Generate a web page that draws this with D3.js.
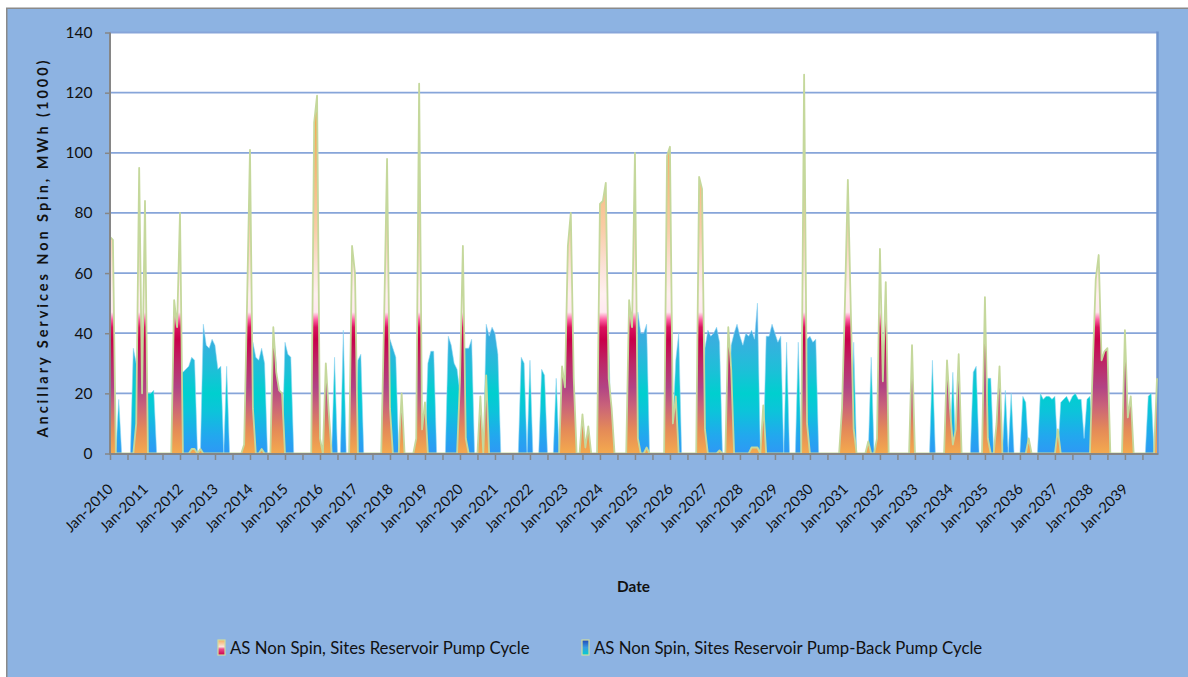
<!DOCTYPE html>
<html>
<head>
<meta charset="utf-8">
<script src="https://cdn.jsdelivr.net/npm/d3@7/dist/d3.min.js"></script>
<style>
  html, body { margin: 0; padding: 0; background: #ffffff; }
  svg { display: block; font-family: Lato, "Open Sans", "Liberation Sans", sans-serif; }
</style>
</head>
<body>
<svg id="chart" width="1188" height="677"></svg>
<script>
// Monthly values, MWh (1000), Jan-2010 .. Dec-2039, one row per year
const pumpCycleByYear = [
  [72, 71, 0, 0, 0, 0, 0, 0, 0, 10, 95, 20],      // 2010
  [84, 0, 0, 0, 0, 0, 0, 0, 0, 0, 51, 42],        // 2011
  [80, 0, 0, 0, 1.5, 1.5, 0, 1.5, 0, 0, 0, 0],    // 2012
  [0, 0, 0, 0, 0, 0, 0, 0, 0, 0, 3, 50],          // 2013
  [101, 15, 0, 0, 1.5, 0, 0, 0, 42, 27, 21, 20],  // 2014
  [0, 0, 0, 0, 0, 0, 0, 0, 0, 0, 110, 119],       // 2015
  [5, 0, 30, 14, 0, 0, 0, 0, 0, 0, 0, 69],        // 2016
  [60, 0, 0, 0, 0, 0, 0, 0, 0, 0, 45, 98],        // 2017
  [15, 0, 0, 0, 20, 0, 0, 0, 0, 5, 123, 8],       // 2018
  [17, 0, 0, 0, 0, 0, 0, 0, 0, 0, 0, 0],          // 2019
  [24, 69, 5, 0, 0, 0, 0, 19, 0, 26, 0, 0],       // 2020
  [0, 0, 0, 0, 0, 0, 0, 0, 0, 0, 0, 0],           // 2021
  [0, 0, 0, 0, 0, 0, 0, 0, 0, 0, 0, 29],          // 2022
  [22, 69, 80, 25, 0, 0, 13, 2, 9, 0, 0, 0],      // 2023
  [83, 84, 90, 25, 15, 0, 0, 0, 0, 0, 51, 42],    // 2024
  [100, 5, 0, 0, 2, 0, 0, 0, 0, 0, 0, 99],        // 2025
  [102, 10, 19, 0, 0, 0, 0, 0, 0, 0, 92, 88],     // 2026
  [8, 0, 0, 0, 0, 1, 0, 0, 42, 28, 0, 0],         // 2027
  [0, 0, 0, 0, 2, 2, 2, 0, 16, 0, 0, 0],          // 2028
  [0, 0, 0, 0, 0, 0, 0, 0, 0, 0, 126, 10],        // 2029
  [0, 0, 0, 0, 0, 0, 0, 0, 0, 0, 0, 15],          // 2030
  [50, 91, 48, 8, 0, 0, 0, 0, 4, 0, 0, 5],        // 2031
  [68, 24, 57, 0, 0, 0, 0, 0, 0, 0, 0, 36],       // 2032
  [0, 0, 0, 0, 0, 0, 0, 0, 0, 0, 0, 31],          // 2033
  [15, 3, 8, 33, 0, 0, 0, 0, 0, 0, 0, 0],         // 2034
  [52, 5, 0, 0, 10, 29, 0, 0, 0, 0, 0, 0],        // 2035
  [0, 0, 0, 5, 0, 0, 0, 0, 0, 0, 0, 0],           // 2036
  [0, 8, 0, 0, 0, 0, 0, 0, 0, 0, 0, 0],           // 2037
  [0, 30, 58, 66, 31, 34, 35, 0, 0, 0, 0, 0],     // 2038
  [41, 12, 19, 0, 0, 0, 0, 0, 0, 0, 0, 25]        // 2039
];

const pumpBackByYear = [
  [0, 0, 0, 18, 0, 0, 0, 0, 35, 30, 40, 20],      // 2010
  [20, 20, 20, 21, 0, 0, 0, 0, 0, 0, 0, 0],       // 2011
  [27, 27, 28, 29, 32, 31, 0, 0, 43, 36, 35, 38], // 2012
  [36, 28, 29, 0, 29, 0, 0, 0, 0, 0, 0, 0],       // 2013
  [30, 37, 32, 31, 35, 30, 0, 0, 40, 30, 0, 0],   // 2014
  [37, 33, 32, 0, 0, 0, 0, 0, 0, 0, 0, 0],        // 2015
  [0, 0, 0, 0, 0, 32, 0, 0, 41, 0, 0, 0],         // 2016
  [0, 31, 33, 0, 0, 0, 0, 0, 0, 0, 40, 40],       // 2017
  [38, 35, 32, 0, 0, 0, 0, 0, 0, 0, 0, 0],        // 2018
  [0, 30, 34, 34, 0, 0, 0, 0, 39, 36, 30, 28],    // 2019
  [20, 35, 35, 35, 38, 0, 0, 0, 0, 43, 39, 42],   // 2020
  [40, 33, 0, 0, 0, 0, 0, 0, 0, 32, 30, 0],       // 2021
  [31, 0, 0, 0, 28, 26, 0, 0, 0, 25, 0, 0],       // 2022
  [0, 0, 0, 0, 0, 0, 0, 0, 0, 0, 0, 0],           // 2023
  [0, 0, 40, 38, 0, 0, 0, 0, 0, 0, 0, 0],         // 2024
  [0, 47, 40, 40, 43, 0, 0, 0, 0, 0, 0, 0],       // 2025
  [0, 10, 31, 40, 0, 0, 0, 0, 0, 0, 0, 0],        // 2026
  [35, 41, 39, 40, 42, 37, 0, 0, 0, 36, 40, 43],  // 2027
  [39, 36, 40, 39, 41, 38, 50, 0, 0, 39, 39, 43], // 2028
  [40, 37, 39, 0, 37, 0, 0, 0, 37, 0, 0, 38],     // 2029
  [39, 37, 38, 0, 0, 0, 0, 0, 0, 0, 0, 0],        // 2030
  [0, 0, 0, 37, 0, 0, 0, 0, 0, 32, 0, 0],         // 2031
  [0, 0, 0, 0, 0, 0, 0, 0, 0, 0, 0, 0],           // 2032
  [0, 0, 0, 0, 0, 0, 31, 0, 0, 0, 0, 0],          // 2033
  [0, 27, 0, 0, 0, 0, 0, 0, 27, 29, 0, 0],        // 2034
  [0, 25, 25, 0, 0, 0, 0, 21, 0, 20, 0, 0],       // 2035
  [0, 19, 17, 0, 0, 0, 0, 20, 18, 19, 19, 18],    // 2036
  [19, 0, 17, 18, 19, 17, 19, 20, 18, 18, 5, 18], // 2037
  [19, 8, 0, 0, 0, 0, 0, 0, 0, 0, 0, 0],          // 2038
  [0, 0, 0, 0, 0, 0, 0, 0, 19, 20, 0, 0]          // 2039
];

const yearTicks = ["Jan-2010", "Jan-2011", "Jan-2012", "Jan-2013", "Jan-2014", "Jan-2015",
  "Jan-2016", "Jan-2017", "Jan-2018", "Jan-2019", "Jan-2020", "Jan-2021", "Jan-2022",
  "Jan-2023", "Jan-2024", "Jan-2025", "Jan-2026", "Jan-2027", "Jan-2028", "Jan-2029",
  "Jan-2030", "Jan-2031", "Jan-2032", "Jan-2033", "Jan-2034", "Jan-2035", "Jan-2036",
  "Jan-2037", "Jan-2038", "Jan-2039"];
const yTicks = [0, 20, 40, 60, 80, 100, 120, 140];
const seriesNames = ["AS Non Spin, Sites Reservoir Pump Cycle",
                     "AS Non Spin, Sites Reservoir Pump-Back Pump Cycle"];
const yTitle = "Ancillary Services Non Spin, MWh (1000)";
const xTitle = "Date";

const pumpCycle = pumpCycleByYear.flat();
const pumpBack = pumpBackByYear.flat();
const nMonths = pumpCycle.length;

// ---- layout ----
const svg = d3.select("#chart");
const plot = { left: 110, right: 1157, top: 32.5, bottom: 453.5 };
const x = d3.scaleLinear().domain([0, nMonths - 1]).range([plot.left, plot.right]);
const y = d3.scaleLinear().domain([0, 140]).range([plot.bottom, plot.top]);

const defs = svg.append("defs");

// colour ramps keyed by value on the y axis
const cycleRamp = [[0, "#F4AA4E"], [8, "#E48A58"], [16, "#C9627A"], [22, "#B24484"],
  [30, "#BC2868"], [38, "#C8004A"], [42, "#DA125E"], [44.5, "#FF5EA2"], [47, "#FFE8F0"],
  [53, "#FFF0F0"], [62, "#FCE2D8"], [75, "#F9CCA6"], [95, "#F6B678"], [115, "#F2A848"],
  [140, "#F0A040"]];
const backRamp = [[0, "#2E98F5"], [6, "#22A8EE"], [14, "#0CC4DA"], [20, "#00CFCF"],
  [28, "#1EBFD8"], [36, "#34B2DE"], [44, "#45A4E2"], [60, "#3F84DA"], [140, "#2148B8"]];

function valueGradient(id, ramp) {
  const g = defs.append("linearGradient").attr("id", id)
    .attr("gradientUnits", "userSpaceOnUse")
    .attr("x1", 0).attr("x2", 0).attr("y1", y(0)).attr("y2", y(140));
  ramp.forEach(([v, c]) => g.append("stop").attr("offset", v / 140).attr("stop-color", c));
}
valueGradient("cycleFill", cycleRamp);
valueGradient("backFill", backRamp);

function swatchGradient(id, stops) {
  const g = defs.append("linearGradient").attr("id", id)
    .attr("x1", 0).attr("x2", 0).attr("y1", 0).attr("y2", 1);
  stops.forEach(([o, c]) => g.append("stop").attr("offset", o).attr("stop-color", c));
}
swatchGradient("cycleSwatch", [[0, "#F4AE5C"], [0.45, "#FCE4DC"], [0.6, "#F04C8C"], [1, "#C8004A"]]);
swatchGradient("backSwatch", [[0, "#2048B8"], [0.5, "#3A9CE2"], [1, "#00D0CF"]]);

// chart background with border on the visible edges
svg.append("rect").attr("x", 6.75).attr("y", 8.25).attr("width", 1200).attr("height", 700)
  .attr("fill", "#8DB3E2").attr("stroke", "#8A8A8A").attr("stroke-width", 1.5);

// plot area
svg.append("rect").attr("x", plot.left).attr("y", plot.top)
  .attr("width", plot.right - plot.left).attr("height", plot.bottom - plot.top)
  .attr("fill", "#ffffff");

// horizontal gridlines
svg.append("g").selectAll("line").data(yTicks.filter(v => v > 0)).join("line")
  .attr("x1", plot.left).attr("x2", plot.right)
  .attr("y1", d => y(d)).attr("y2", d => y(d))
  .attr("stroke", "#87A5D9").attr("stroke-width", 1.8);

// right edge of plot
svg.append("line").attr("x1", plot.right + 0.5).attr("x2", plot.right + 0.5)
  .attr("y1", plot.top - 1).attr("y2", plot.bottom)
  .attr("stroke", "#7094CD").attr("stroke-width", 2.5);

const area = d3.area().x((d, i) => x(i)).y0(y(0)).y1(d => y(d));
const line = d3.line().x((d, i) => x(i)).y(d => y(d));

// pump-back series (behind)
svg.append("path").datum(pumpBack).attr("d", area).attr("fill", "url(#backFill)");
svg.append("path").datum(pumpBack).attr("d", line).attr("fill", "none")
  .attr("stroke", "#8ED6F2").attr("stroke-width", 0.8).attr("stroke-opacity", 0.7);

// pump cycle series (front) with light green outline
svg.append("path").datum(pumpCycle).attr("d", area).attr("fill", "url(#cycleFill)");
svg.append("path").datum(pumpCycle).attr("d", line).attr("fill", "none")
  .attr("stroke", "#C5D89C").attr("stroke-width", 1.8).attr("stroke-linejoin", "round");

// axes
const axisColor = "#868686";
const yAxis = svg.append("g").attr("transform", `translate(${plot.left},0)`)
  .call(d3.axisLeft(y).tickValues(yTicks).tickSize(5).tickFormat(""));
yAxis.select(".domain").attr("stroke", axisColor).attr("stroke-width", 2).attr("d",
  `M0,${plot.top}V${plot.bottom + 1}`);
yAxis.selectAll(".tick line").attr("stroke", axisColor).attr("stroke-width", 1.5);

const halfYearTicks = d3.range(0, nMonths, 6);
const xAxis = svg.append("g").attr("transform", `translate(0,${plot.bottom + 0.5})`)
  .call(d3.axisBottom(x).tickValues(halfYearTicks).tickSize(6).tickFormat(""));
xAxis.select(".domain").attr("stroke", axisColor).attr("stroke-width", 2)
  .attr("d", `M${plot.left - 1},0H${plot.right + 1.5}`);
xAxis.selectAll(".tick line").attr("stroke", axisColor).attr("stroke-width", 1.5);

// size a font so that a text spans a given width
function fitSize(text, weight, width) {
  const t = svg.append("text").attr("font-size", 100).attr("font-weight", weight).text(text);
  const w = t.node().getComputedTextLength();
  t.remove();
  return 100 * width / w;
}

// y tick labels
const yTickSize = fitSize("140", "normal", 27);
svg.append("g").selectAll("text").data(yTicks).join("text")
  .attr("x", 92.5).attr("y", d => y(d)).attr("dy", "0.35em")
  .attr("text-anchor", "end").attr("font-size", yTickSize).attr("fill", "#111")
  .text(d => d);

// x tick labels, one per year
const xTickSize = fitSize("Jan-2010", "normal", 61);
svg.append("g").selectAll("text").data(yearTicks).join("text")
  .attr("transform", (d, i) => `translate(${x(i * 12) + 4},490) rotate(-45)`)
  .attr("text-anchor", "end").attr("font-size", xTickSize).attr("fill", "#111")
  .text(d => d);

// axis titles
svg.append("text").attr("transform", "translate(48,249) rotate(-90)")
  .attr("text-anchor", "middle").attr("font-weight", "bold").attr("font-size", 14.5)
  .attr("textLength", 377).attr("lengthAdjust", "spacing").attr("fill", "#111")
  .text(yTitle);

svg.append("text").attr("x", 633.5).attr("y", 587).attr("dy", "0.35em")
  .attr("text-anchor", "middle").attr("font-weight", "bold")
  .attr("font-size", fitSize(xTitle, "bold", 33)).attr("fill", "#111")
  .text(xTitle);

// legend
const legendSize = (fitSize(seriesNames[0], "normal", 298) + fitSize(seriesNames[1], "normal", 391)) / 2;
const legendItems = [
  { name: seriesNames[0], sx: 218, tx: 230, fill: "url(#cycleSwatch)" },
  { name: seriesNames[1], sx: 582, tx: 594, fill: "url(#backSwatch)" }
];
const lg = svg.append("g").selectAll("g").data(legendItems).join("g");
lg.append("rect").attr("x", d => d.sx).attr("y", 640).attr("width", 7).attr("height", 15)
  .attr("fill", d => d.fill).attr("stroke", "#D0DCA0").attr("stroke-width", 1.2);
lg.append("text").attr("x", d => d.tx).attr("y", 648).attr("dy", "0.35em")
  .attr("font-size", legendSize).attr("fill", "#111").text(d => d.name);
</script>
</body>
</html>
